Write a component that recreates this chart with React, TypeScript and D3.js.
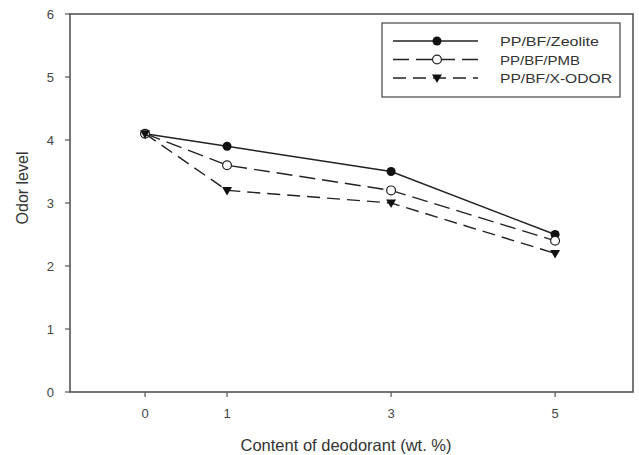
import React from "react";
import * as d3 from "d3";

const contents = [0, 1, 3, 5];
const zeolite = [4.1, 3.9, 3.5, 2.5];
const pmb = [4.1, 3.6, 3.2, 2.4];
const xodor = [4.1, 3.2, 3.0, 2.2];
const yTicks = [0, 1, 2, 3, 4, 5, 6];
const seriesNames = ["PP/BF/Zeolite", "PP/BF/PMB", "PP/BF/X-ODOR"];

const W = 639, H = 455;
const L = 70, R = 633, T = 14, B = 392;
const font = "'Liberation Sans', Arial, sans-serif";

export default function App() {
  const x = d3.scaleLinear().domain([-0.915, 5.95]).range([L, R]);
  const y = d3.scaleLinear().domain([0, 6]).range([B, T]);
  const line = d3.line<[number, number]>().x(d => x(d[0])).y(d => y(d[1]));
  const series = [
    { name: seriesNames[0], vals: zeolite, dash: "", marker: "filled", tl: 99 },
    { name: seriesNames[1], vals: pmb, dash: "16,7", marker: "open", tl: 80 },
    { name: seriesNames[2], vals: xodor, dash: "13,7", marker: "tri", tl: 112 },
  ];
  const marker = (kind: string, cx: number, cy: number, key: any) => {
    if (kind === "filled") return <circle key={key} cx={cx} cy={cy} r={4.5} fill="#111" />;
    if (kind === "open") return <circle key={key} cx={cx} cy={cy} r={4.4} fill="#fff" stroke="#222" strokeWidth={1.2} />;
    return <path key={key} d={`M${cx - 5},${cy - 3.5} L${cx + 5},${cy - 3.5} L${cx},${cy + 5} Z`} fill="#111" />;
  };
  const legendX = 382, legendY = 23;
  return (
    <svg width={W} height={H} style={{ position: "absolute", left: 0, top: 0, background: "#fff" }} fontFamily={font}>
      <rect x={0} y={0} width={W} height={H} fill="#fff" />
      <rect x={L} y={T} width={R - L} height={B - T} fill="none" stroke="#555" strokeWidth={1.6} />
      {yTicks.map(t => (
        <g key={"y" + t}>
          <line x1={L - 5} x2={L} y1={y(t)} y2={y(t)} stroke="#555" strokeWidth={1.2} />
          <text x={54} y={y(t) + 4.5} textAnchor="end" fontSize={13} fill="#444">{t}</text>
        </g>
      ))}
      {contents.map(c => (
        <g key={"x" + c}>
          <line x1={x(c)} x2={x(c)} y1={B} y2={B + 5} stroke="#555" strokeWidth={1.2} />
          <text x={x(c)} y={418} textAnchor="middle" fontSize={13} fill="#444">{c}</text>
        </g>
      ))}
      <text x={346} y={451} textAnchor="middle" fontSize={16.5} fill="#333">Content of deodorant (wt. %)</text>
      <text transform={`translate(28,188) rotate(-90)`} textAnchor="middle" fontSize={16} fill="#333">Odor level</text>
      {series.map((s, i) => (
        <g key={s.name}>
          <path d={line(contents.map((c, j) => [c, s.vals[j]] as [number, number])) || ""} fill="none" stroke="#222" strokeWidth={1.4} strokeDasharray={s.dash} />
          {contents.map((c, j) => marker(s.marker, x(c), y(s.vals[j]), i + "-" + j))}
        </g>
      ))}
      <rect x={legendX} y={legendY} width={238} height={74} fill="#fff" stroke="#444" strokeWidth={1.2} />
      {series.map((s, i) => {
        const ly = 41 + i * 18.5;
        return (
          <g key={"lg" + i}>
            <line x1={393} x2={478} y1={ly} y2={ly} stroke="#222" strokeWidth={1.4} strokeDasharray={s.dash} />
            {marker(s.marker, 437, ly, "lm" + i)}
            <text x={500} y={ly + 5} fontSize={13.5} fill="#333" textLength={s.tl} lengthAdjust="spacingAndGlyphs">{s.name}</text>
          </g>
        );
      })}
    </svg>
  );
}
